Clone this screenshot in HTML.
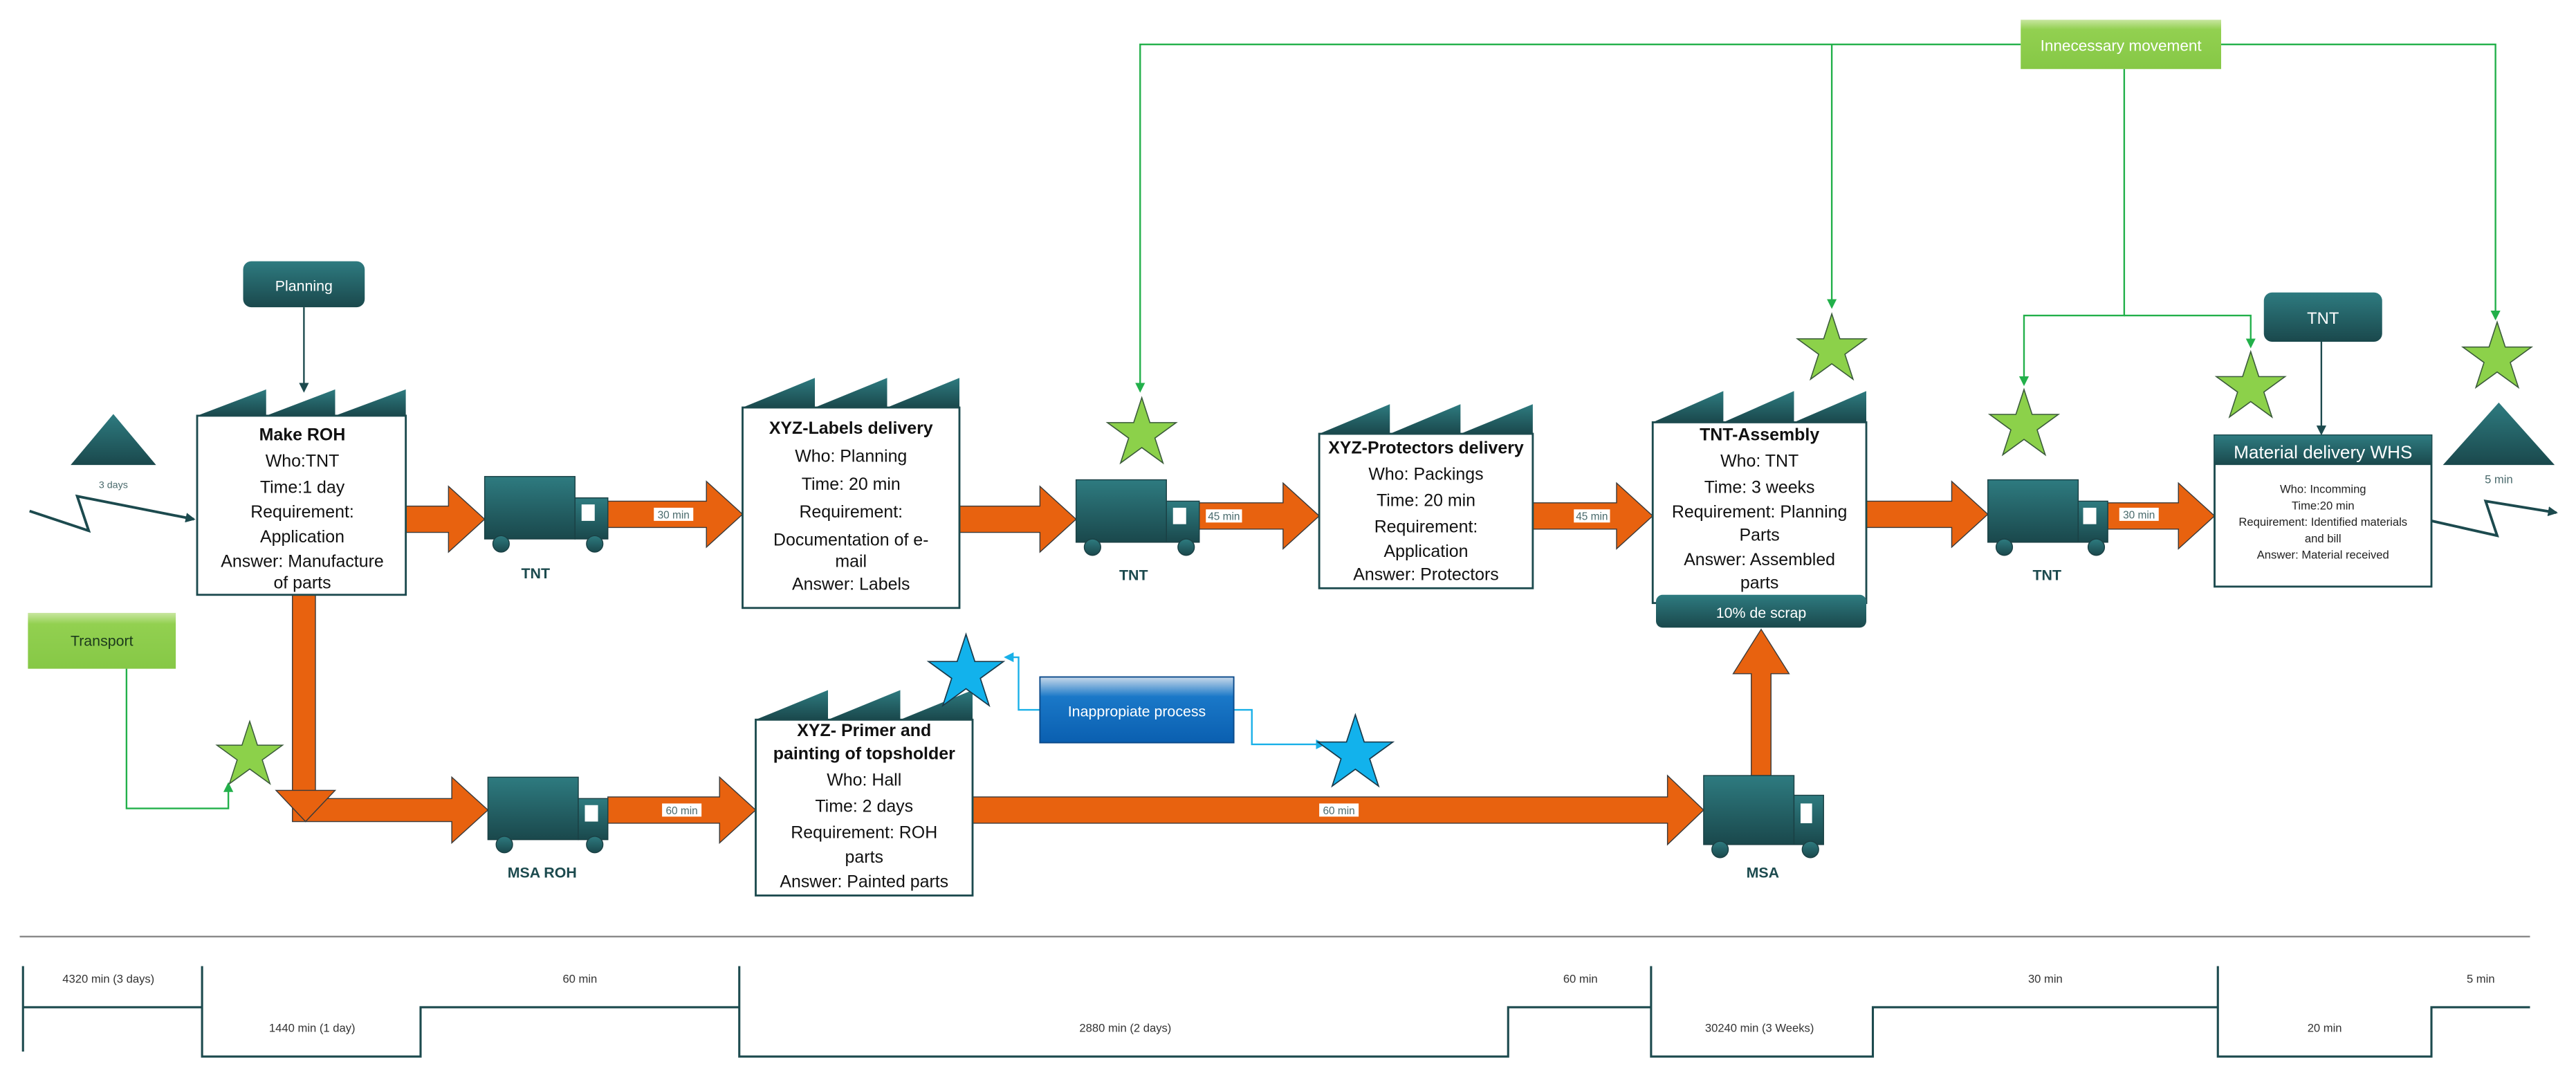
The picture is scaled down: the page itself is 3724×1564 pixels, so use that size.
<!DOCTYPE html>
<html><head><meta charset="utf-8"><style>
html,body{margin:0;padding:0;background:#fff;}
svg{display:block;}
text{font-family:"Liberation Sans Narrow","Liberation Sans",sans-serif;}
</style></head><body>
<svg width="3724" height="1564" viewBox="0 0 1568 658.5" xmlns="http://www.w3.org/2000/svg">
<defs>
<linearGradient id="tg" x1="0" y1="0" x2="0" y2="1"><stop offset="0" stop-color="#2e7b80"/><stop offset="1" stop-color="#1a484c"/></linearGradient>
<linearGradient id="gg" x1="0" y1="0" x2="0" y2="1"><stop offset="0" stop-color="#c8e6a0"/><stop offset="0.2" stop-color="#92d050"/><stop offset="1" stop-color="#86c846"/></linearGradient>
<linearGradient id="bg" x1="0" y1="0" x2="0" y2="1"><stop offset="0" stop-color="#c9d9ea"/><stop offset="0.3" stop-color="#1a78c8"/><stop offset="1" stop-color="#0a5fb0"/></linearGradient>
<path id="star" d="M0,-20 L4.49,-6.18 L19.02,-6.18 L7.27,2.36 L11.76,16.18 L0,7.64 L-11.76,16.18 L-7.27,2.36 L-19.02,-6.18 L-4.49,-6.18Z"/>
<marker id="ag" markerWidth="6" markerHeight="6" refX="5" refY="3" orient="auto" markerUnits="userSpaceOnUse"><path d="M0,0 L6,3 L0,6Z" fill="#22b04a"/></marker>
<marker id="ab" markerWidth="6" markerHeight="6" refX="5" refY="3" orient="auto" markerUnits="userSpaceOnUse"><path d="M0,0 L6,3 L0,6Z" fill="#19b0e8"/></marker>
<marker id="at" markerWidth="6" markerHeight="6" refX="5" refY="3" orient="auto" markerUnits="userSpaceOnUse"><path d="M0,0 L6,3 L0,6Z" fill="#1c4a4e"/></marker>
</defs>

<g fill="none" stroke="#22b04a" stroke-width="1">
<path d="M1230,27 H694 V238" marker-end="url(#ag)"/>
<path d="M1115,27 V187" marker-end="url(#ag)"/>
<path d="M1352,27 H1519 V194" marker-end="url(#ag)"/>
<path d="M1293,42 V192 H1232 V234" marker-end="url(#ag)"/>
<path d="M1293,192 H1370 V211" marker-end="url(#ag)"/>
<path d="M77,407 V492 H139 V477" marker-end="url(#ag)"/>
</g>
<g fill="none" stroke="#19b0e8" stroke-width="1">
<path d="M633,432 H620 V400 H612" marker-end="url(#ab)"/>
<path d="M751,432 H762 V453 H806" marker-end="url(#ab)"/>
</g>
<g fill="none" stroke="#1c4a4e" stroke-width="1">
<path d="M185,187 V238" marker-end="url(#at)"/>
<path d="M1413,208 V264" marker-end="url(#at)"/>
<path d="M18,311 L54,323 L47,302 L118,316" stroke-width="1.6" marker-end="url(#at)"/>
<path d="M1480,317 L1520,326 L1513,305 L1556,312" stroke-width="1.6" marker-end="url(#at)"/>
</g>

<rect x="1230" y="12" width="122" height="30" fill="url(#gg)"/>
<text x="1291" y="31" font-size="9.5" text-anchor="middle" fill="#fff">Innecessary movement</text>
<rect x="17" y="373" width="90" height="34" fill="url(#gg)"/>
<text x="62" y="393" font-size="9" text-anchor="middle" fill="#1c3a1c">Transport</text>
<rect x="148" y="159" width="74" height="28" rx="5" fill="url(#tg)"/>
<text x="185" y="177" font-size="9" text-anchor="middle" fill="#fff">Planning</text>
<rect x="1378" y="178" width="72" height="30" rx="5" fill="url(#tg)"/>
<text x="1414" y="197" font-size="10" text-anchor="middle" fill="#fff">TNT</text>

<polygon points="69,252 95,283 43,283" fill="url(#tg)"/>
<text x="69" y="297" font-size="6" text-anchor="middle" fill="#4a6a6c">3 days</text>
<polygon points="1521,245 1555,283 1487,283" fill="url(#tg)"/>
<text x="1521" y="294" font-size="7" text-anchor="middle" fill="#4a6a6c">5 min</text>

<g fill="#e8620f" stroke="#3a3a3a" stroke-width="0.6">
<polygon points="247,308 273,308 273,296 295,316 273,336 273,324 247,324"/>
<polygon points="370,305 430,305 430,293 452,313 430,333 430,321 370,321"/>
<polygon points="584,308 633,308 633,296 655,316 633,336 633,324 584,324"/>
<polygon points="730,306 781,306 781,294 803,314 781,334 781,322 730,322"/>
<polygon points="933,306 984,306 984,294 1006,314 984,334 984,322 933,322"/>
<polygon points="1136,305 1188,305 1188,293 1210,313 1188,333 1188,321 1136,321"/>
<polygon points="1283,306 1326,306 1326,294 1348,314 1326,334 1326,322 1283,322"/>
<polygon points="178,362 192,362 192,486 275,486 275,473 297,493 275,513 275,500 178,500"/>
<polygon points="168,481 204,481 186,500"/>
<polygon points="370,485 438,485 438,473 460,493 438,513 438,501 370,501"/>
<polygon points="592,485 1015,485 1015,472 1037,493 1015,514 1015,501 592,501"/>
<polygon points="1066,472 1066,410 1055,410 1072,383 1089,410 1078,410 1078,472"/>
</g>
<g font-size="6.5" text-anchor="middle" fill="#4a6a6c">
<rect x="398" y="309" width="24" height="8" fill="#fff"/><text x="410" y="315.5">30 min</text>
<rect x="734" y="310" width="22" height="8" fill="#fff"/><text x="745" y="316.5">45 min</text>
<rect x="958" y="310" width="22" height="8" fill="#fff"/><text x="969" y="316.5">45 min</text>
<rect x="1290" y="309" width="24" height="8" fill="#fff"/><text x="1302" y="315.5">30 min</text>
<rect x="403" y="489" width="24" height="8" fill="#fff"/><text x="415" y="495.5">60 min</text>
<rect x="803" y="489" width="24" height="8" fill="#fff"/><text x="815" y="495.5">60 min</text>
</g>

<g fill="url(#tg)" stroke="#1a4044" stroke-width="0.6">
<rect x="295" y="290" width="55" height="38"/><rect x="350" y="303" width="20" height="25"/><circle cx="305" cy="331" r="5"/><circle cx="362" cy="331" r="5"/>
<rect x="655" y="292" width="55" height="38"/><rect x="710" y="305" width="20" height="25"/><circle cx="665" cy="333" r="5"/><circle cx="722" cy="333" r="5"/>
<rect x="1210" y="292" width="55" height="38"/><rect x="1265" y="305" width="18" height="25"/><circle cx="1220" cy="333" r="5"/><circle cx="1276" cy="333" r="5"/>
<rect x="297" y="473" width="55" height="38"/><rect x="352" y="486" width="18" height="25"/><circle cx="307" cy="514" r="5"/><circle cx="362" cy="514" r="5"/>
<rect x="1037" y="472" width="55" height="42"/><rect x="1092" y="484" width="18" height="30"/><circle cx="1047" cy="517" r="5"/><circle cx="1102" cy="517" r="5"/>
</g>
<g fill="#fff"><rect x="354" y="307" width="8" height="10"/><rect x="714" y="309" width="8" height="10"/><rect x="1268" y="309" width="8" height="10"/><rect x="356" y="490" width="8" height="10"/><rect x="1096" y="489" width="7" height="12"/></g>
<g font-size="9" font-weight="bold" text-anchor="middle" fill="#1c4a4e">
<text x="326" y="352">TNT</text><text x="690" y="353">TNT</text><text x="1246" y="353">TNT</text>
<text x="330" y="534">MSA ROH</text><text x="1073" y="534">MSA</text>
</g>

<g fill="url(#tg)">
<path d="M120,253 L162,237 V253 L204,237 V253 L247,237 V253Z"/>
<path d="M452,248 L496,230 V248 L540,230 V248 L584,230 V248Z"/>
<path d="M803,264 L846,246 V264 L889,246 V264 L933,246 V264Z"/>
<path d="M1006,257 L1049,238 V257 L1092,238 V257 L1136,238 V257Z"/>
<path d="M460,438 L504,420 V438 L548,420 V438 L592,420 V438Z"/>
</g>
<g fill="#fff" stroke="#1c4a4e" stroke-width="1.2">
<rect x="120" y="253" width="127" height="109"/>
<rect x="452" y="248" width="132" height="122"/>
<rect x="803" y="264" width="130" height="94"/>
<rect x="1006" y="257" width="130" height="110"/>
<rect x="460" y="438" width="132" height="107"/>
<rect x="1348" y="265" width="132" height="92"/>
</g>
<rect x="1008" y="362" width="128" height="20" rx="4" fill="url(#tg)"/>
<text x="1072" y="376" font-size="9" text-anchor="middle" fill="#fff">10% de scrap</text>
<rect x="1348" y="265" width="132" height="18" fill="url(#tg)"/>
<text x="1414" y="279" font-size="11" text-anchor="middle" fill="#fff">Material delivery WHS</text>

<g font-size="10.5" text-anchor="middle" fill="#111">
<text x="184" y="268" font-weight="bold">Make ROH</text>
<text x="184" y="284">Who:TNT</text><text x="184" y="300">Time:1 day</text><text x="184" y="315">Requirement:</text><text x="184" y="330">Application</text><text x="184" y="345">Answer: Manufacture</text><text x="184" y="358">of parts</text>

<text x="518" y="264" font-weight="bold">XYZ-Labels delivery</text>
<text x="518" y="281">Who: Planning</text><text x="518" y="298">Time: 20 min</text><text x="518" y="315">Requirement:</text><text x="518" y="332">Documentation of e-</text><text x="518" y="345">mail</text><text x="518" y="359">Answer: Labels</text>

<text x="868" y="276" font-weight="bold">XYZ-Protectors delivery</text>
<text x="868" y="292">Who: Packings</text><text x="868" y="308">Time: 20 min</text><text x="868" y="324">Requirement:</text><text x="868" y="339">Application</text><text x="868" y="353">Answer: Protectors</text>

<text x="1071" y="268" font-weight="bold">TNT-Assembly</text>
<text x="1071" y="284">Who: TNT</text><text x="1071" y="300">Time: 3 weeks</text><text x="1071" y="315">Requirement: Planning</text><text x="1071" y="329">Parts</text><text x="1071" y="344">Answer: Assembled</text><text x="1071" y="358">parts</text>

<text x="526" y="448" font-weight="bold">XYZ- Primer and</text>
<text x="526" y="462" font-weight="bold">painting of topsholder</text>
<text x="526" y="478">Who: Hall</text><text x="526" y="494">Time: 2 days</text><text x="526" y="510">Requirement: ROH</text><text x="526" y="525">parts</text><text x="526" y="540">Answer: Painted parts</text>
</g>
<g font-size="7" text-anchor="middle" fill="#222">
<text x="1414" y="300">Who: Incomming</text><text x="1414" y="310">Time:20 min</text><text x="1414" y="320">Requirement: Identified materials</text><text x="1414" y="330">and bill</text><text x="1414" y="340">Answer: Material received</text>
</g>

<rect x="633" y="412" width="118" height="40" fill="url(#bg)" stroke="#0b4a8a" stroke-width="0.8"/>
<text x="692" y="436" font-size="9" text-anchor="middle" fill="#fff">Inappropiate process</text>

<g fill="#8cd14a" stroke="#3a5a3a" stroke-width="0.6">
<use href="#star" transform="translate(695,264) scale(1.1)"/>
<use href="#star" transform="translate(1115,213) scale(1.1)"/>
<use href="#star" transform="translate(1232,259) scale(1.1)"/>
<use href="#star" transform="translate(1370,236) scale(1.1)"/>
<use href="#star" transform="translate(1520,218) scale(1.1)"/>
<use href="#star" transform="translate(152,460) scale(1.05)"/>
</g>
<g fill="#12b2ec" stroke="#1a3a4a" stroke-width="0.6">
<use href="#star" transform="translate(588,410) scale(1.2)"/>
<use href="#star" transform="translate(825,459) scale(1.2)"/>
</g>

<line x1="12" y1="570" x2="1540" y2="570" stroke="#888" stroke-width="1"/>
<path d="M14,640 V588 M14,613 H123 V643 H256 V613 H450 V643 H918 V613 H1005 V643 H1140 V613 H1350 V643 H1480 V613 H1540 M123,588 V613 M450,588 V613 M1005,588 V613 M1350,588 V613" fill="none" stroke="#1c4a4e" stroke-width="1.3"/>
<g font-size="7" text-anchor="middle" fill="#333">
<text x="66" y="598">4320 min (3 days)</text>
<text x="190" y="628">1440 min (1 day)</text>
<text x="353" y="598">60 min</text>
<text x="685" y="628">2880 min (2 days)</text>
<text x="962" y="598">60 min</text>
<text x="1071" y="628">30240 min (3 Weeks)</text>
<text x="1245" y="598">30 min</text>
<text x="1415" y="628">20 min</text>
<text x="1510" y="598">5 min</text>
</g>
</svg>
</body></html>
